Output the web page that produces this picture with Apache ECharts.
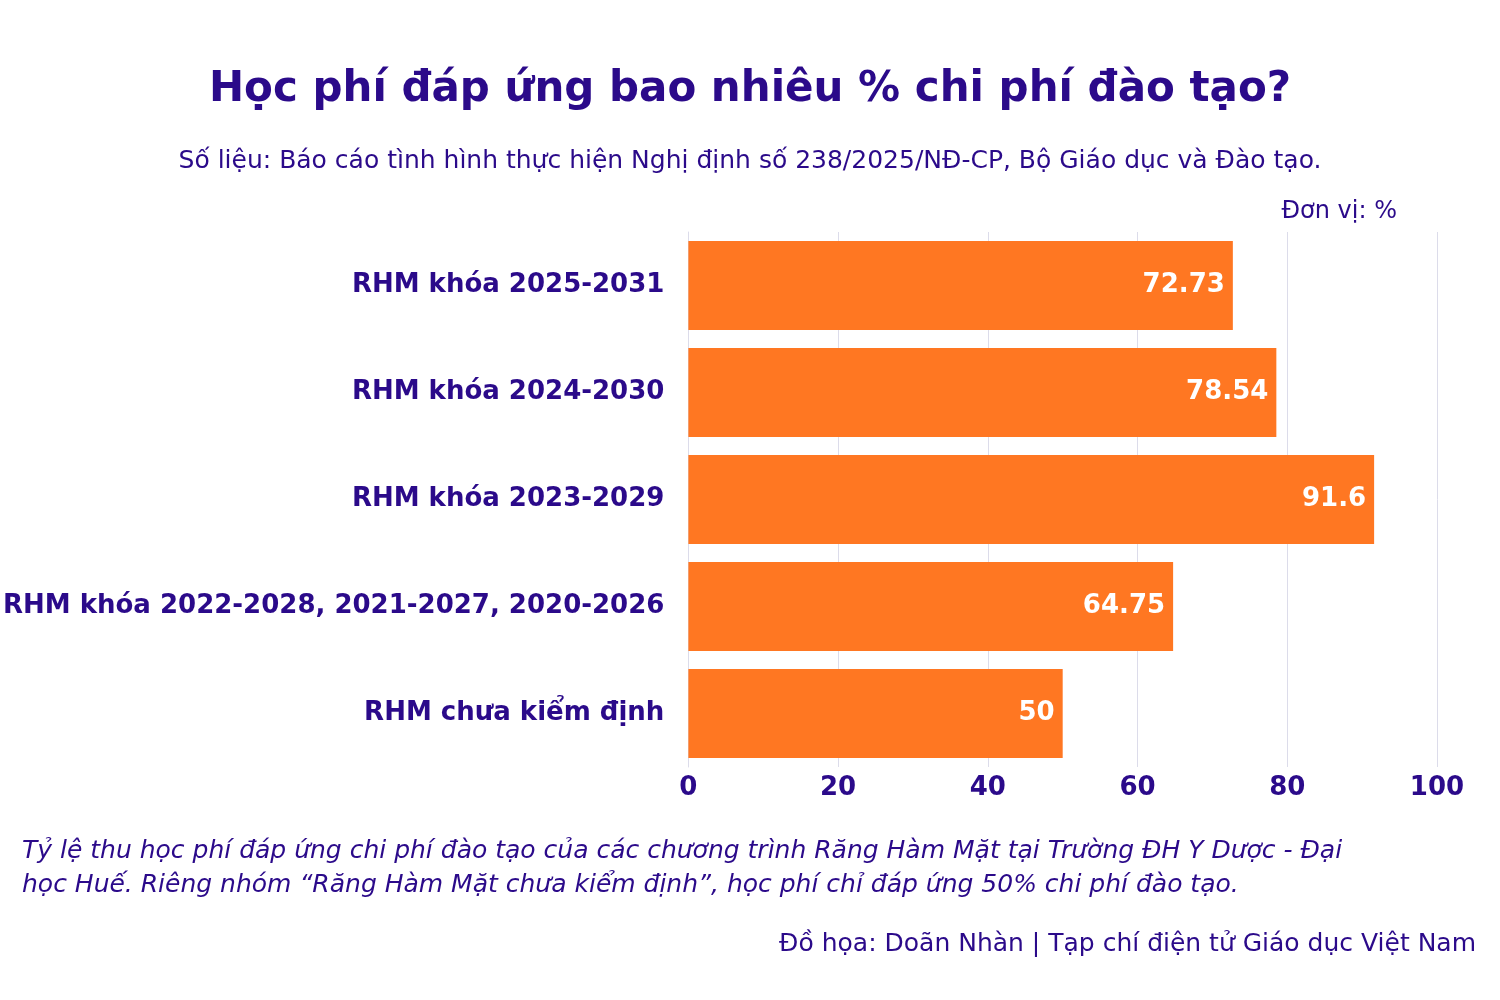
<!DOCTYPE html>
<html>
<head>
<meta charset="utf-8">
<script src="https://cdn.jsdelivr.net/npm/echarts@6/dist/echarts.min.js"></script>
<style>html,body{margin:0;padding:0;background:#fff}#chart{width:1500px;height:1000px}</style>
</head>
<body>
<div id="chart"></div>
<script>
var categories = ['RHM khóa 2025-2031', 'RHM khóa 2024-2030', 'RHM khóa 2023-2029', 'RHM khóa 2022-2028, 2021-2027, 2020-2026', 'RHM chưa kiểm định'];
var values = [72.73, 78.54, 91.6, 64.75, 50];
var xTicks = [0, 20, 40, 60, 80, 100];

var ink = '#2b0a8a';
var font = '"DejaVu Sans", "Noto Sans", sans-serif';

var chart = echarts.init(document.getElementById('chart'));
chart.setOption({
    backgroundColor: '#fff',
    textStyle: { fontFamily: font },
    title: [
        {
            text: 'Học phí đáp ứng bao nhiêu % chi phí đào tạo?',
            left: 'center', top: 64,
            textStyle: { fontSize: 42, fontWeight: 'bold', color: ink, fontFamily: font }
        },
        {
            text: 'Số liệu: Báo cáo tình hình thực hiện Nghị định số 238/2025/NĐ-CP, Bộ Giáo dục và Đào tạo.',
            left: 'center', top: 144,
            textStyle: { fontSize: 25, fontWeight: 'normal', color: ink, fontFamily: font }
        }
    ],
    graphic: [
        { type: 'text', right: 103, top: 200, style: { text: 'Đơn vị: %', fontSize: 24, fill: ink, fontFamily: font } },
        { type: 'text', left: 22, top: 834, style: {
            text: 'Tỷ lệ thu học phí đáp ứng chi phí đào tạo của các chương trình Răng Hàm Mặt tại Trường ĐH Y Dược - Đại\nhọc Huế. Riêng nhóm “Răng Hàm Mặt chưa kiểm định”, học phí chỉ đáp ứng 50% chi phí đào tạo.',
            fontSize: 25, fontStyle: 'italic', lineHeight: 34, fill: ink, fontFamily: font } },
        { type: 'text', right: 24, top: 932, style: { text: 'Đồ họa: Doãn Nhàn | Tạp chí điện tử Giáo dục Việt Nam', fontSize: 25, fill: ink, fontFamily: font } }
    ],
    grid: { left: 667, right: 63, top: 232, bottom: 233, containLabel: false },
    xAxis: {
        type: 'value', min: xTicks[0], max: xTicks[xTicks.length - 1], interval: 20,
        axisLine: { show: false }, axisTick: { show: false },
        splitLine: { lineStyle: { color: '#dcdcea', width: 1 } },
        axisLabel: { fontSize: 26, fontWeight: 'bold', color: ink, margin: 8 }
    },
    yAxis: {
        type: 'category', data: categories, inverse: true,
        axisLine: { show: true, lineStyle: { color: '#dcdcea' } }, axisTick: { show: false },
        axisLabel: { fontSize: 26, fontWeight: 'bold', color: ink, margin: 24 }
    },
    series: [{
        type: 'bar', data: values, barCategoryGap: '17%',
        itemStyle: { color: '#ff7722' },
        label: {
            show: true, position: 'insideRight', distance: 8,
            fontSize: 26, fontWeight: 'bold', color: '#fff'
        }
    }]
});
</script>
</body>
</html>
